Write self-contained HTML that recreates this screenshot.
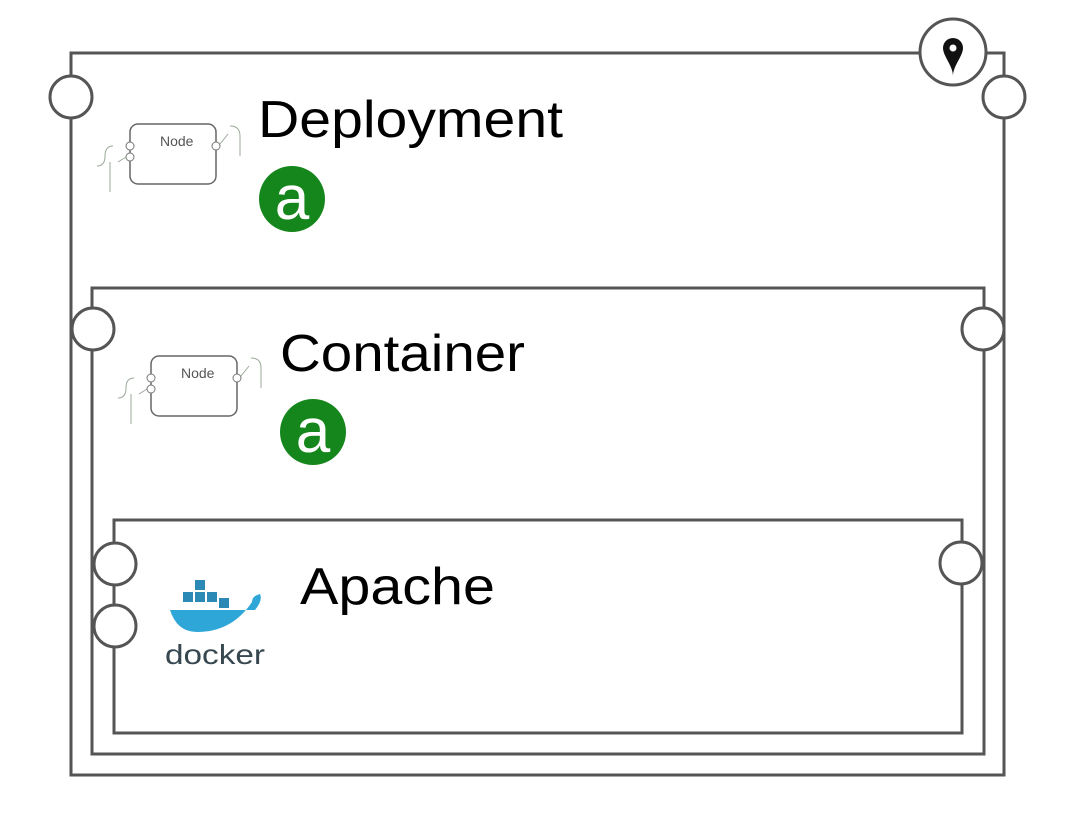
<!DOCTYPE html>
<html><head><meta charset="utf-8"><style>
body{margin:0;background:#fff;}
svg{display:block}
text{font-family:"Liberation Sans",sans-serif;}
</style></head><body>
<svg width="1070" height="828" viewBox="0 0 1070 828" xmlns="http://www.w3.org/2000/svg">
<defs>
<g id="node">
 <rect x="0" y="0" width="86" height="60" rx="8" fill="#fff" stroke="#666" stroke-width="1.5"/>
 <text x="30" y="22" font-size="14" fill="#555">Node</text>
 <circle cx="0" cy="22" r="4" fill="#fff" stroke="#777"/>
 <circle cx="0" cy="33" r="4" fill="#fff" stroke="#777"/>
 <circle cx="86" cy="22" r="4" fill="#fff" stroke="#777"/>
 <path d="M-4 33 L-12 38 M-17 22 q-8 0 -8 10 q0 10 -8 10 M-20 38 v30 M90 20 L98 10 M100 2 q10 0 10 10 v20" stroke="#9a9" fill="none" stroke-width="1"/>
</g>
<g id="alogo">
 <circle cx="0" cy="0" r="33" fill="#15861b"/>
 <text x="0" y="20" font-size="62" fill="#fff" text-anchor="middle">a</text>
</g>
</defs>
<g fill="none" stroke="#555" stroke-width="3">
 <rect x="71" y="53" width="933" height="722"/>
 <rect x="92" y="288" width="892" height="466"/>
 <rect x="114" y="520" width="848" height="213"/>
</g>
<g fill="#fff" stroke="#555" stroke-width="3">
 <circle cx="71" cy="97" r="21"/>
 <circle cx="1004" cy="97" r="21"/>
 <circle cx="93" cy="329" r="21"/>
 <circle cx="983" cy="329" r="21"/>
 <circle cx="115" cy="564" r="21"/>
 <circle cx="115" cy="626" r="21"/>
 <circle cx="961" cy="563" r="21"/>
 <circle cx="953" cy="52" r="33"/>
</g>
<path d="M953 38 a10 10 0 0 1 10 10 c0 8 -10 18 -10 28 c0 -10 -10 -20 -10 -28 a10 10 0 0 1 10 -10z" fill="#111"/>
<circle cx="953" cy="48" r="3.5" fill="#fff"/>
<use href="#node" x="130" y="124"/>
<use href="#node" x="151" y="356"/>
<use href="#alogo" x="292" y="199"/>
<use href="#alogo" x="313" y="432"/>
<text x="258" y="137" font-size="52" fill="#000" textLength="305" lengthAdjust="spacingAndGlyphs">Deployment</text>
<text x="280" y="371" font-size="52" fill="#000" textLength="245" lengthAdjust="spacingAndGlyphs">Container</text>
<text x="300" y="604" font-size="52" fill="#000" textLength="195" lengthAdjust="spacingAndGlyphs">Apache</text>
<g>
 <rect x="195" y="580" width="10" height="10" fill="#2a89b5"/>
 <rect x="183" y="592" width="10" height="10" fill="#2a89b5"/>
 <rect x="195" y="592" width="10" height="10" fill="#2a89b5"/>
 <rect x="207" y="592" width="10" height="10" fill="#2a89b5"/>
 <rect x="219" y="598" width="10" height="10" fill="#2a89b5"/>
 <path d="M170 610 L255 610 q8 -10 5 -16 q-8 2 -8 8 q-20 30 -55 30 q-20 0 -27 -22z" fill="#2ea6d8"/>
 <text x="165" y="664" font-size="28" fill="#37474f" textLength="100" lengthAdjust="spacingAndGlyphs">docker</text>
</g>
</svg>
</body></html>
